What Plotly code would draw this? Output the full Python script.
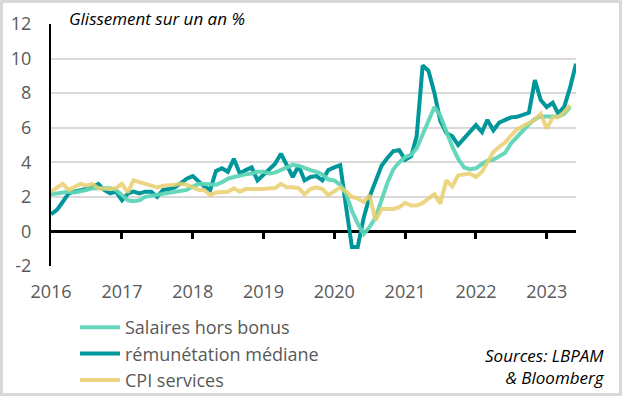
import plotly.graph_objects as go
import pandas as pd

dates_teal = pd.date_range("2016-01-01", periods=90, freq="MS")
dates_other = dates_teal[:89]

remuneration_mediane = [
    1.0, 1.25, 1.7, 2.2, 2.3, 2.4, 2.45, 2.55, 2.75, 2.4,
    2.2, 2.3, 1.8, 2.2, 2.3, 2.2, 2.3, 2.3, 2.0, 2.4,
    2.45, 2.55, 2.8, 3.05, 3.2, 2.85, 2.6, 2.4, 3.5, 3.65,
    3.45, 4.2, 3.35, 3.55, 3.7, 2.95, 3.3, 3.6, 3.9, 4.5,
    3.8, 3.15, 3.8, 2.95, 3.15, 3.2, 2.95, 3.55, 3.7, 3.83,
    1.5, -0.9, -0.9, 0.8, 2.0, 2.9, 3.8, 4.25, 4.65, 4.7,
    4.15, 4.35, 5.5, 9.6, 9.3, 8.0, 6.4, 5.7, 5.5, 5.0,
    5.4, 5.8, 6.15, 5.75, 6.45, 5.85, 6.3, 6.45, 6.6, 6.63,
    6.75, 6.86, 8.75, 7.6, 7.2, 7.44, 6.82, 7.2, 8.3, 9.7,
]

salaires_hors_bonus = [
    2.15, 2.2, 2.25, 2.3, 2.25, 2.3, 2.4, 2.5, 2.5, 2.5,
    2.5, 2.4, 2.1, 1.8, 1.75, 1.8, 2.0, 2.05, 2.1, 2.15,
    2.2, 2.3, 2.3, 2.4, 2.6, 2.75, 2.75, 2.75, 2.7, 2.85,
    3.05, 3.15, 3.25, 3.3, 3.35, 3.45, 3.45, 3.35, 3.4, 3.55,
    3.75, 3.85, 3.8, 3.65, 3.55, 3.45, 3.3, 3.0, 2.95, 2.7,
    2.2, 1.2, 0.45, -0.15, 0.25, 0.8, 1.8, 2.8, 3.6, 4.0,
    4.3, 4.45, 4.8, 5.6, 6.5, 7.2, 6.7, 5.8, 4.9, 4.2,
    3.7, 3.6, 3.65, 3.9, 4.1, 4.15, 4.35, 4.55, 5.1, 5.5,
    5.85, 6.2, 6.5, 6.65, 6.65, 6.65, 6.65, 6.8, 7.2,
]

cpi_services = [
    2.3, 2.5, 2.75, 2.4, 2.55, 2.75, 2.65, 2.75, 2.5, 2.45,
    2.45, 2.5, 2.75, 2.25, 2.95, 2.85, 2.75, 2.6, 2.55, 2.65,
    2.65, 2.7, 2.75, 2.7, 2.55, 2.4, 2.4, 2.1, 2.25, 2.25,
    2.3, 2.5, 2.3, 2.45, 2.45, 2.4, 2.45, 2.5, 2.5, 2.75,
    2.55, 2.55, 2.5, 2.15, 2.45, 2.55, 2.45, 2.1, 2.35, 2.55,
    2.3, 2.0, 1.9, 1.7, 2.1, 0.65, 1.3, 1.3, 1.3, 1.4,
    1.65, 1.5, 1.5, 1.65, 1.9, 2.15, 1.6, 2.95, 2.6, 3.25,
    3.3, 3.35, 3.15, 3.45, 4.0, 4.6, 4.9, 5.15, 5.55, 5.9,
    6.1, 6.3, 6.45, 6.8, 5.95, 6.6, 6.6, 6.9, 7.3,
]

year_ticks = ["2016", "2017", "2018", "2019", "2020", "2021", "2022", "2023"]
y_ticks = [-2, 0, 2, 4, 6, 8, 10, 12]
y_tick_text = ["-2", "0", "2", "4", "6", "8", "10", "12"]

TEAL = "#00979a"
GREEN = "#5ed5b8"
YELLOW = "#e9cf6f"
GRAY = "#595959"
FONT = "Open Sans"

fig = go.Figure()
fig.add_trace(go.Scatter(
    x=dates_teal, y=remuneration_mediane, name="rémunétation médiane",
    mode="lines", line=dict(color=TEAL, width=4), legendrank=2,
))
fig.add_trace(go.Scatter(
    x=dates_other, y=salaires_hors_bonus, name="Salaires hors bonus",
    mode="lines", line=dict(color=GREEN, width=4), opacity=0.95, legendrank=1,
))
fig.add_trace(go.Scatter(
    x=dates_other, y=cpi_services, name="CPI services",
    mode="lines", line=dict(color=YELLOW, width=4), opacity=0.85, legendrank=3,
))
# helper trace for the axis drawn at y = 0 (ticks only)
fig.add_trace(go.Scatter(
    x=[dates_teal[0], dates_teal[-1]], y=[0, 0], xaxis="x2", mode="lines",
    line=dict(width=0), showlegend=False, hoverinfo="skip",
))

tickvals = [pd.Timestamp(f"{y}-01-01") for y in year_ticks]
xrange = [dates_teal[0], dates_teal[-1]]

W, H = 622, 396
L, R, T, B = 51, 46, 24, 130
pw, ph = W - L - R, H - T - B

fig.update_layout(
    width=W, height=H,
    margin=dict(l=L, r=R, t=T, b=B, autoexpand=False),
    paper_bgcolor="white", plot_bgcolor="white",
    font=dict(family=FONT, size=18, color=GRAY),
    xaxis=dict(
        type="date", range=xrange, tickvals=tickvals, ticktext=year_ticks,
        showgrid=False, zeroline=False, showline=False, ticks="",
        ticklabelstandoff=13, tickfont=dict(size=18, color=GRAY), automargin=False,
    ),
    xaxis2=dict(
        type="date", range=xrange, overlaying="x", anchor="free",
        position=2 / 14, tickvals=tickvals[1:], showticklabels=False,
        ticks="outside", ticklen=7, tickwidth=2.5, tickcolor="black",
        showgrid=False, zeroline=False, showline=False, automargin=False,
    ),
    yaxis=dict(
        range=[-2, 12], tickvals=y_ticks, ticktext=y_tick_text,
        showgrid=True, gridcolor="#d9d9d9",
        gridwidth=1.5, zeroline=True, zerolinecolor="black", zerolinewidth=2.5,
        showline=True, linecolor="black", linewidth=2, ticks="",
        ticklabelstandoff=14, tickfont=dict(size=18, color=GRAY), automargin=False,
    ),
    showlegend=True,
    legend=dict(
        x=(75 - L) / pw, y=-(309 - T - ph) / ph, xanchor="left", yanchor="top",
        orientation="v", font=dict(size=18, color=GRAY), bgcolor="rgba(0,0,0,0)",
        tracegroupgap=0, itemwidth=40,
    ),
    shapes=[dict(
        type="rect", xref="paper", yref="paper",
        x0=-L / pw + 1.5 / pw, x1=1 + R / pw - 1.5 / pw,
        y0=-B / ph + 1.5 / ph, y1=1 + T / ph - 1.5 / ph,
        line=dict(color="#d9d9d9", width=3), fillcolor="rgba(0,0,0,0)", layer="below",
    )],
    annotations=[
        dict(text="<i>Glissement sur un an %</i>", xref="paper", yref="paper",
             x=(67 - L) / pw, y=1 + (T - 18) / ph, xanchor="left", yanchor="middle",
             showarrow=False, font=dict(family=FONT, size=17, color="black")),
        dict(text="<i>Sources: LBPAM<br>& Bloomberg</i>", xref="paper", yref="paper",
             x=(607 - L) / pw, y=-(366 - T - ph) / ph, xanchor="right", yanchor="middle",
             align="right", showarrow=False,
             font=dict(family=FONT, size=17, color="black")),
    ],
)

fig.write_html(
    "out.html",
    config={"displayModeBar": False},
    post_script="document.body.style.margin='0';document.body.style.overflow='hidden';",
)
